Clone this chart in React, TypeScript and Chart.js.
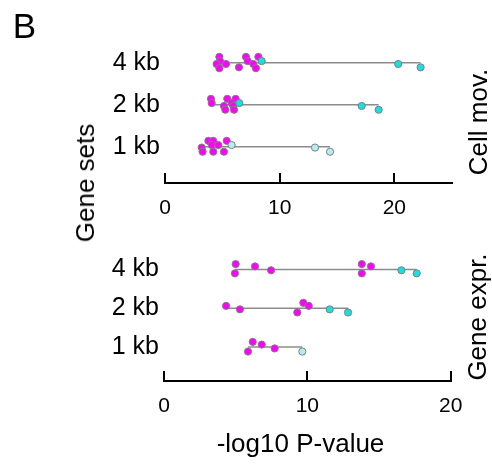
import React, { useEffect, useRef } from "react";
import { Chart, registerables } from "chart.js";

Chart.register(...registerables);

// Row order: index 0 = bottom row (1 kb), 2 = top row (4 kb)
const rowLabels = ["1 kb", "2 kb", "4 kb"];
const xTickValues = [0, 10, 20];

// Each point: [-log10 P-value, vertical jitter within the row]
const cellMov1kbMagenta = [[3.2, -0.02], [3.28, -0.12], [3.78, 0.14], [4.21, 0.14], [4.07, 0.04], [4.21, -0.12], [4.65, 0.04], [5.14, -0.12], [5.38, 0.14]];
const cellMov1kbCyan = [[5.81, 0.04], [13.08, -0.02], [14.39, -0.12]];
const cellMov2kbMagenta = [[4.01, 0.14], [4.07, 0.04], [5.43, 0.14], [6.16, 0.14], [5.14, -0.03], [5.26, -0.12], [5.81, 0.04], [5.96, -0.03], [6.02, -0.12]];
const cellMov2kbCyan = [[6.48, 0.04], [17.15, -0.03], [18.63, -0.12]];
const cellMov4kbMagenta = [[4.74, 0.14], [4.8, 0.04], [4.5, -0.03], [4.74, -0.13], [5.32, -0.03], [6.45, -0.11], [7.06, 0.14], [7.21, 0.04], [7.7, -0.03], [7.93, -0.13], [8.14, 0.14]];
const cellMov4kbCyan = [[8.43, 0.04], [20.34, -0.03], [22.29, -0.11]];

const geneExpr1kbMagenta = [[6.19, 0.13], [6.82, 0.06], [7.72, -0.04], [5.86, -0.12]];
const geneExpr1kbCyan = [[9.65, -0.12]];
const geneExpr2kbMagenta = [[4.33, 0.06], [5.3, -0.03], [9.72, 0.14], [10.1, 0.06], [9.3, -0.11]];
const geneExpr2kbCyan = [[11.56, -0.03], [12.84, -0.11]];
const geneExpr4kbMagenta = [[5.0, 0.14], [4.95, -0.1], [6.35, 0.08], [7.47, -0.02], [13.8, 0.14], [13.8, -0.1], [14.44, 0.08]];
const geneExpr4kbCyan = [[16.56, -0.02], [17.63, -0.1]];

const cellMovRows = [
  { magenta: cellMov1kbMagenta, cyan: cellMov1kbCyan },
  { magenta: cellMov2kbMagenta, cyan: cellMov2kbCyan },
  { magenta: cellMov4kbMagenta, cyan: cellMov4kbCyan },
];
const geneExprRows = [
  { magenta: geneExpr1kbMagenta, cyan: geneExpr1kbCyan },
  { magenta: geneExpr2kbMagenta, cyan: geneExpr2kbCyan },
  { magenta: geneExpr4kbMagenta, cyan: geneExpr4kbCyan },
];

const FONT = "'Liberation Sans', Arial, Helvetica, sans-serif";
const MAGENTA = "#FF00FF";
const CYAN_ROW = ["#B2EEF3", "#14E1E1", "#14E1E1"];
const EDGE = "#7F7F7F";

type Row = { magenta: number[][]; cyan: number[][] };

function buildDatasets(rows: Row[]) {
  const ds: any[] = [];
  rows.forEach((r, i) => {
    const all = [...r.magenta, ...r.cyan].map((p) => p[0]);
    ds.push({
      type: "line",
      data: [
        { x: Math.min(...all), y: i },
        { x: Math.max(...all), y: i },
      ],
      borderColor: "#8C8C8C",
      borderWidth: 1.5,
      pointRadius: 0,
      showLine: true,
      order: 2,
    });
    ds.push({
      data: r.magenta.map((p) => ({ x: p[0], y: i + p[1] })),
      backgroundColor: MAGENTA,
      borderColor: EDGE,
      borderWidth: 1,
      pointRadius: 3.6,
      showLine: false,
      order: 1,
    });
    ds.push({
      data: r.cyan.map((p) => ({ x: p[0], y: i + p[1] })),
      backgroundColor: CYAN_ROW[i],
      borderColor: EDGE,
      borderWidth: 1,
      pointRadius: 3.6,
      showLine: false,
      order: 0,
    });
  });
  return ds;
}

function makeChart(
  canvas: HTMLCanvasElement,
  rows: Row[],
  xMax: number,
  yMin: number,
  yMax: number,
  pad: { top: number; right: number },
  xHeight: number,
  yWidth: number
) {
  return new Chart(canvas, {
    type: "scatter",
    data: { datasets: buildDatasets(rows) },
    options: {
      animation: false,
      responsive: false,
      devicePixelRatio: 1,
      layout: { padding: { top: pad.top, right: pad.right, left: 0, bottom: 0 } },
      plugins: { legend: { display: false }, tooltip: { enabled: false } },
      scales: {
        x: {
          type: "linear",
          min: 0,
          max: xMax,
          afterBuildTicks: (scale: any) => {
            scale.ticks = xTickValues.filter((v) => v <= xMax).map((v) => ({ value: v }));
          },
          afterFit: (scale: any) => {
            scale.height = xHeight;
          },
          border: { display: true, color: "#000", width: 2 },
          grid: {
            drawOnChartArea: false,
            drawTicks: true,
            tickLength: -10,
            color: "#000",
            lineWidth: 2,
          },
          ticks: {
            padding: 23,
            color: "#000",
            font: { family: FONT, size: 21 },
            maxRotation: 0,
          },
        },
        y: {
          type: "linear",
          min: yMin,
          max: yMax,
          afterBuildTicks: (scale: any) => {
            scale.ticks = rowLabels.map((_, i) => ({ value: i }));
          },
          afterFit: (scale: any) => {
            scale.width = yWidth;
          },
          border: { display: false },
          grid: { display: false, drawTicks: false },
          ticks: {
            padding: 5,
            color: "#000",
            font: { family: FONT, size: 25 },
            callback: (v: any) => rowLabels[Math.round(Number(v))] ?? "",
          },
        },
      },
    } as any,
  });
}

const textBase: React.CSSProperties = {
  position: "absolute",
  fontFamily: FONT,
  color: "#000",
  lineHeight: 1,
  whiteSpace: "nowrap",
  transform: "translate(-50%, -50%)",
};

export default function App() {
  const topRef = useRef<HTMLCanvasElement>(null);
  const botRef = useRef<HTMLCanvasElement>(null);

  useEffect(() => {
    const c1 = makeChart(topRef.current!, cellMovRows, 25, -0.864, 2.78, { top: 30, right: 40.3 }, 47, 165);
    const c2 = makeChart(botRef.current!, geneExprRows, 20, -0.881, 2.504, { top: 10, right: 41.3 }, 83, 164);
    return () => {
      c1.destroy();
      c2.destroy();
    };
  }, []);

  return (
    <div style={{ position: "fixed", left: 0, top: 0, width: 492, height: 464, background: "#fff", overflow: "hidden" }}>
      <canvas ref={topRef} width={492} height={230} style={{ position: "absolute", left: 0, top: 0, width: 492, height: 230 }} />
      <canvas ref={botRef} width={492} height={234} style={{ position: "absolute", left: 0, top: 230, width: 492, height: 234 }} />
      <div style={{ ...textBase, left: 24.5, top: 25, fontSize: 35 }}>B</div>
      <div style={{ ...textBase, left: 85, top: 183, fontSize: 26, transform: "translate(-50%, -50%) rotate(-90deg)" }}>Gene sets</div>
      <div style={{ ...textBase, left: 477.5, top: 121.7, fontSize: 26, transform: "translate(-50%, -50%) rotate(-90deg)" }}>Cell mov.</div>
      <div style={{ ...textBase, left: 476.5, top: 316.7, fontSize: 26, transform: "translate(-50%, -50%) rotate(-90deg)" }}>Gene expr.</div>
      <div style={{ ...textBase, left: 300.5, top: 443, fontSize: 26 }}>-log10 P-value</div>
    </div>
  );
}
